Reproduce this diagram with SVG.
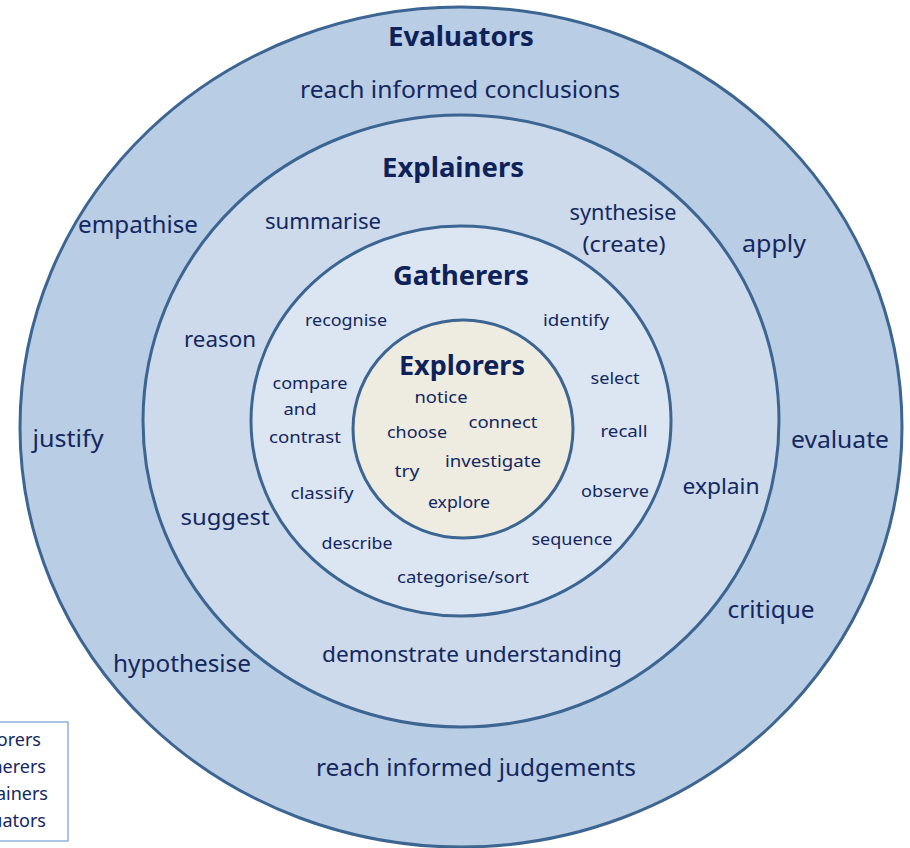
<svg xmlns="http://www.w3.org/2000/svg" width="910" height="848" viewBox="0 0 910 848">
<style>
.ring{stroke:#3d6592;stroke-width:3}
text{font-family:"Noto Sans","Liberation Sans",sans-serif;fill:#14275e;text-anchor:middle}
.title{font-weight:bold;font-size:26px;fill:#0e2259}
.l1{font-size:23px}
.l2{font-size:21px}
.l3{font-size:17px}
.leg{font-size:18px;text-anchor:end}
</style>
<rect width="910" height="848" fill="#ffffff"/>
<g id="evaluators">
<ellipse class="ring" cx="461" cy="427" rx="441" ry="420" fill="#b9cde4"/>
<text class="title" x="461" y="46" textLength="146" lengthAdjust="spacingAndGlyphs">Evaluators</text>
<text class="l1" x="460" y="98" textLength="320" lengthAdjust="spacingAndGlyphs">reach informed conclusions</text>
<text class="l1" x="138" y="233" textLength="120" lengthAdjust="spacingAndGlyphs">empathise</text>
<text class="l1" x="774" y="252" textLength="64" lengthAdjust="spacingAndGlyphs">apply</text>
<text class="l1" x="68" y="447" textLength="71" lengthAdjust="spacingAndGlyphs">justify</text>
<text class="l1" x="840" y="448" textLength="98" lengthAdjust="spacingAndGlyphs">evaluate</text>
<text class="l1" x="771" y="618" textLength="87" lengthAdjust="spacingAndGlyphs">critique</text>
<text class="l1" x="182" y="672" textLength="138" lengthAdjust="spacingAndGlyphs">hypothesise</text>
<text class="l1" x="476" y="776" textLength="320" lengthAdjust="spacingAndGlyphs">reach informed judgements</text>
</g>
<g id="explainers">
<ellipse class="ring" cx="461" cy="421" rx="318" ry="306" fill="#ccdaeb"/>
<text class="title" x="453" y="177" textLength="142" lengthAdjust="spacingAndGlyphs">Explainers</text>
<text class="l2" x="323" y="229" textLength="116" lengthAdjust="spacingAndGlyphs">summarise</text>
<text class="l2" x="623" y="220" textLength="107" lengthAdjust="spacingAndGlyphs">synthesise</text>
<text class="l2" x="624" y="252" textLength="83" lengthAdjust="spacingAndGlyphs">(create)</text>
<text class="l2" x="220" y="347" textLength="72" lengthAdjust="spacingAndGlyphs">reason</text>
<text class="l2" x="225" y="525" textLength="89" lengthAdjust="spacingAndGlyphs">suggest</text>
<text class="l2" x="721" y="494" textLength="77" lengthAdjust="spacingAndGlyphs">explain</text>
<text class="l2" x="472" y="662" textLength="300" lengthAdjust="spacingAndGlyphs">demonstrate understanding</text>
</g>
<g id="gatherers">
<ellipse class="ring" cx="461" cy="421" rx="210" ry="195" fill="#dce6f2"/>
<text class="title" x="461" y="285" textLength="136" lengthAdjust="spacingAndGlyphs">Gatherers</text>
<text class="l3" x="346" y="326" textLength="82" lengthAdjust="spacingAndGlyphs">recognise</text>
<text class="l3" x="576" y="326" textLength="66" lengthAdjust="spacingAndGlyphs">identify</text>
<text class="l3" x="310" y="389" textLength="75" lengthAdjust="spacingAndGlyphs">compare</text>
<text class="l3" x="300" y="415" textLength="33" lengthAdjust="spacingAndGlyphs">and</text>
<text class="l3" x="305" y="443" textLength="72" lengthAdjust="spacingAndGlyphs">contrast</text>
<text class="l3" x="615" y="384" textLength="49" lengthAdjust="spacingAndGlyphs">select</text>
<text class="l3" x="624" y="437" textLength="47" lengthAdjust="spacingAndGlyphs">recall</text>
<text class="l3" x="322" y="499" textLength="63" lengthAdjust="spacingAndGlyphs">classify</text>
<text class="l3" x="615" y="497" textLength="68" lengthAdjust="spacingAndGlyphs">observe</text>
<text class="l3" x="357" y="549" textLength="71" lengthAdjust="spacingAndGlyphs">describe</text>
<text class="l3" x="572" y="545" textLength="81" lengthAdjust="spacingAndGlyphs">sequence</text>
<text class="l3" x="463" y="583" textLength="132" lengthAdjust="spacingAndGlyphs">categorise/sort</text>
</g>
<g id="explorers">
<ellipse class="ring" cx="463" cy="429" rx="110" ry="109" fill="#eeebe0"/>
<text class="title" x="462" y="375" font-size="28" textLength="126" lengthAdjust="spacingAndGlyphs">Explorers</text>
<text class="l3" x="441" y="403" textLength="53" lengthAdjust="spacingAndGlyphs">notice</text>
<text class="l3" x="503" y="428" textLength="69" lengthAdjust="spacingAndGlyphs">connect</text>
<text class="l3" x="417" y="438" textLength="60" lengthAdjust="spacingAndGlyphs">choose</text>
<text class="l3" x="493" y="467" textLength="96" lengthAdjust="spacingAndGlyphs">investigate</text>
<text class="l3" x="407" y="477" textLength="25" lengthAdjust="spacingAndGlyphs">try</text>
<text class="l3" x="459" y="508" textLength="62" lengthAdjust="spacingAndGlyphs">explore</text>
</g>
<g id="legend">
<rect x="-10" y="722" width="78" height="119" fill="#ffffff" stroke="#8db3da" stroke-width="1.5"/>
<text class="leg" x="41" y="746">Explorers</text>
<text class="leg" x="46" y="773">Gatherers</text>
<text class="leg" x="48" y="800">Explainers</text>
<text class="leg" x="46" y="827">Evaluators</text>
</g>
<g id="connectors"/>
</svg>
